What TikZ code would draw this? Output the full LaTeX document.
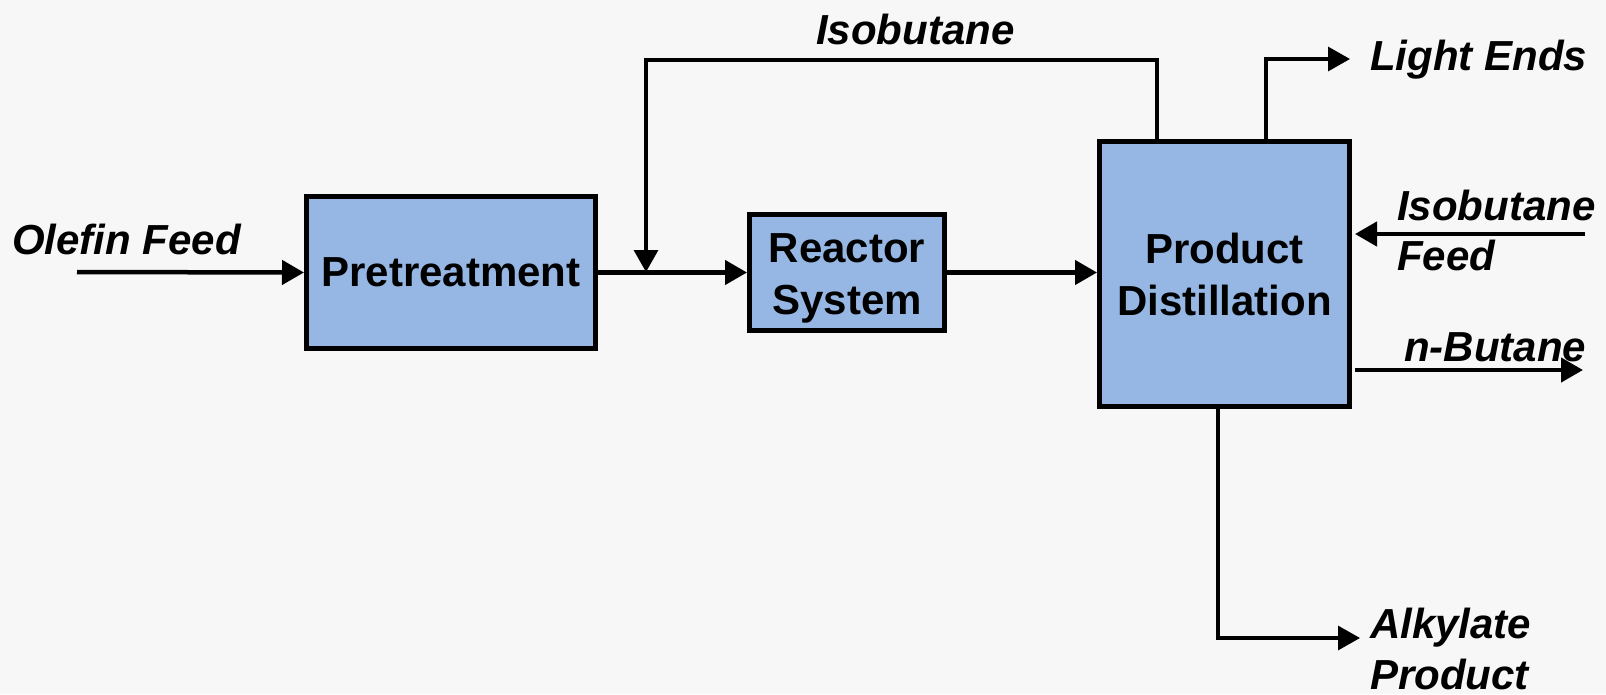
\documentclass[tikz,border=0pt]{standalone}
\usepackage{fontspec}
\setmainfont{Liberation Sans}
\usetikzlibrary{arrows.meta}
\definecolor{bgcol}{RGB}{247,247,247}
\definecolor{boxcol}{RGB}{150,183,227}
\tikzset{
  unit/.style={draw=black, fill=boxcol, line width=5pt, align=center,
    font=\fontsize{42}{52}\selectfont\bfseries, inner sep=0pt},
  unittext/.style={align=center, inner sep=0pt,
    font=\fontsize{42}{52}\selectfont\bfseries},
  lbl/.style={anchor=base west, inner sep=0pt,
    font=\fontsize{42}{50}\selectfont\bfseries\itshape},
  tip/.style={-{Triangle[length=22pt,width=24pt]}},
  flow/.style={line width=4.5pt, tip},
  branch/.style={line width=3.3pt, tip},
}
\begin{document}
\begin{tikzpicture}[x=1pt,y=-1pt]
\fill[bgcol] (0,0) rectangle (1606,694);
\useasboundingbox (0,0) rectangle (1606,694);

% process units
\node[unit, minimum width=289pt, minimum height=152pt] (pre) at (451,272.5) {Pretreatment};
\node[unit, minimum width=195pt, minimum height=116pt] (react) at (847,272.5) {};
\node[unittext] (reactT) at ([yshift=-6pt]react.center) {Reactor\\System};
\node[unit, minimum width=250pt, minimum height=265pt] (dist) at (1224.5,274) {Product\\Distillation};

% stream end points and bends
\coordinate (olefin) at (77,272);
\coordinate (mix) at (646,272);
\coordinate (recR) at (1157,60);
\coordinate (recL) at (646,60);
\coordinate (leT) at (1266,59);
\coordinate (leE) at (1350,59);
\coordinate (ifs) at (1585,234);
\coordinate (nbE) at (1583,370);
\coordinate (alkB) at (1218,638);
\coordinate (alkE) at (1360,638);

% main flow
\draw[flow] (olefin) -- (pre.west);
\draw[flow] (pre.east) -- (react.west);
\draw[flow] (react.east) -- (react.east -| dist.west);

% isobutane recycle
\draw[branch] (recR |- dist.north) -- (recR) -- (recL) -- (mix);

% distillation products and feed
\draw[branch] (leT |- dist.north) -- (leT) -- (leE);
\draw[flow, shorten >=3pt] (ifs) -- (ifs -| dist.east);
\draw[flow, shorten <=3pt] (nbE -| dist.east) -- (nbE);
\draw[branch] (alkB |- dist.south) -- (alkB) -- (alkE);

% stream labels
\node[lbl] (lolefin) at (12,254) {Olefin Feed};
\node[lbl] (lrec) at (816,44) {Isobutane};
\node[lbl] (llight) at (1370,70) {Light Ends};
\node[lbl] (lisoA) at (1397,220) {Isobutane};
\node[lbl] (lisoB) at (1397,270) {Feed};
\node[lbl] (lnbut) at (1404,361) {n-Butane};
\node[lbl] (lalkA) at (1370,638) {Alkylate};
\node[lbl] (lalkB) at (1370,689) {Product};
\end{tikzpicture}
\end{document}
